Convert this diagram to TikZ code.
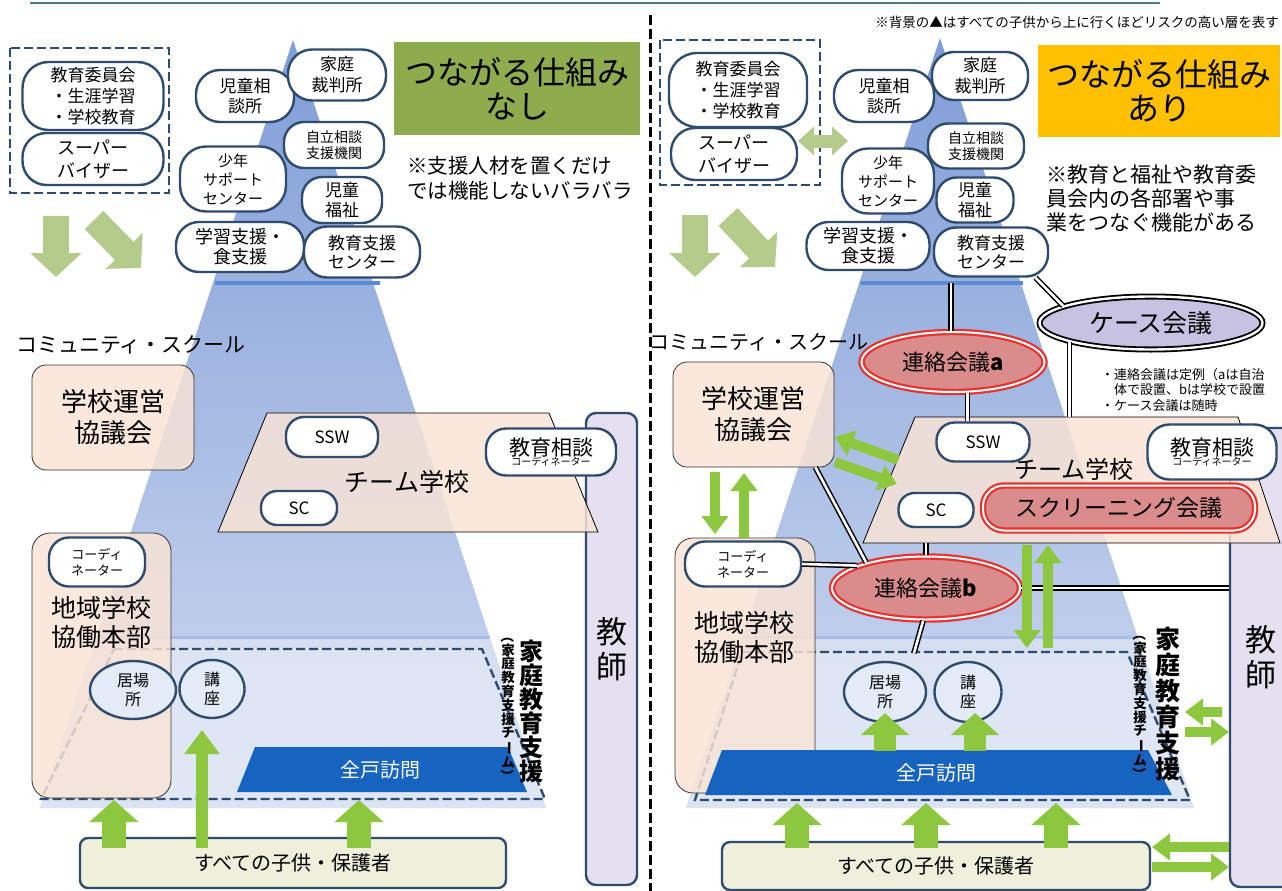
\documentclass[tikz,border=0pt]{standalone}
\usepackage{fontspec}
\setmainfont{Noto Sans CJK JP}
\usepackage{graphicx}
\usetikzlibrary{shapes.geometric,arrows.meta}

\definecolor{pillc}{HTML}{2F4B6E}
\definecolor{peach}{HTML}{FBE4D5}
\definecolor{agreen}{HTML}{8DC63F}
\definecolor{pgreen}{HTML}{B4CB8C}
\definecolor{titleg}{HTML}{8EAB4E}
\definecolor{titleo}{HTML}{FFC000}
\definecolor{zblue}{HTML}{1763C0}
\definecolor{mtgred}{HTML}{DA8B8B}
\definecolor{mtgline}{HTML}{E8322E}
\definecolor{casec}{HTML}{C8C2E2}
\definecolor{teachc}{HTML}{E4E0F0}
\definecolor{kidsc}{HTML}{EEF0DC}
\definecolor{circc}{HTML}{E3ECF6}
\definecolor{triT}{HTML}{7F9DD6}
\definecolor{triB}{HTML}{D0DBF1}
\definecolor{lowc}{HTML}{E4EAF6}
\definecolor{bandc}{HTML}{5B8CD3}
\definecolor{bandl}{HTML}{A7BDE5}
\definecolor{hdr}{HTML}{4F7A8C}

\newcommand\fsz[2]{\fontsize{#1}{#2}\selectfont}
\newcommand\rotch[1]{\rotatebox[origin=c]{-90}{#1}}

\tikzset{
  pill/.style={draw=pillc, line width=2.4pt, fill=white, rounded corners=20pt, align=center, inner sep=0pt},
  circ/.style={ellipse, draw=pillc, line width=2.4pt, fill=circc, align=center, inner sep=0pt, font=\fsz{16}{19}},
  peachbox/.style={draw=black!80, line width=0.8pt, fill=peach, fill opacity=0.82, text opacity=1, rounded corners=14pt},
  dbox/.style={draw=pillc, line width=2.4pt, dash pattern=on 9pt off 4pt},
  mtg/.style={ellipse, draw=mtgline, double=white, double distance=2pt, line width=2.2pt, fill=mtgred, inner sep=0pt},
  dline/.style={draw=black, double=white, double distance=2.6pt, line width=1.5pt},
  teach/.style={draw=pillc, line width=2.4pt, fill=teachc, rounded corners=10pt, align=center, font=\fsz{31}{35}},
  fatarr/.style={draw=agreen, line width=24pt, -{Triangle[length=22pt,width=48pt]}},
  thinarr/.style={draw=agreen, line width=10pt, -{Triangle[length=18pt,width=26pt]}},
  palearr/.style={draw=pgreen, line width=26pt, -{Triangle[length=24pt,width=50pt]}},
}

\begin{document}
\begin{tikzpicture}[x=1pt,y=-1pt]
\useasboundingbox (0,0) rectangle (1282,891);
\fill[white] (0,0) rectangle (1282,891);

% header line and divider
\draw[hdr, line width=2.5pt] (30,3) -- (1160,3);
\draw[black, line width=3pt, dash pattern=on 10pt off 4pt] (650,15) -- (650,891);

% risk triangles
\shade[top color=triT, bottom color=triB] (293,40) -- (40,808) -- (546,808) -- cycle;
\shade[top color=triT, bottom color=triB] (940,38) -- (686,808) -- (1194,808) -- cycle;
\fill[lowc, opacity=0.6] (96,637) -- (490,637) -- (546,808) -- (40,808) -- cycle;
\fill[lowc, opacity=0.6] (742,637) -- (1138,637) -- (1194,808) -- (686,808) -- cycle;
\draw[bandc, line width=4pt] (215,283) -- (380,283);
\draw[bandc, line width=4pt] (860,283) -- (1023,283);
\draw[bandl, line width=3pt] (96,637) -- (490,637);
\draw[bandl, line width=3pt] (742,637) -- (1138,637);

% family support areas
\draw[dbox, fill=lowc, fill opacity=0.5] (114,649) -- (482,649) -- (545,799) -- (41,799) -- cycle;
\draw[dbox, fill=lowc, fill opacity=0.5] (742,652) -- (1127,652) -- (1190,800) -- (695,800) -- cycle;

% teachers
\node[teach, minimum width=51, minimum height=472] (teacherL) at (611.5,649) {教\\師};
\node[teach, minimum width=62, minimum height=459] (teacherR) at (1261,657.5) {教\\師};

% team school
\draw[black, line width=0.8pt, fill=peach, fill opacity=0.82] (267,413) -- (549,413) -- (598,532) -- (218,532) -- cycle;
\draw[black, line width=0.8pt, fill=peach, fill opacity=0.82] (915,417) -- (1238,417) -- (1280,543) -- (863,543) -- cycle;
\node[font=\fsz{25}{28}] (teamL) at (407,482) {チーム学校};
\node[font=\fsz{24}{28}] (teamR) at (1074,469) {チーム学校};

% community school
\node[anchor=west, font=\fsz{21}{24}, inner sep=0] (commL) at (16,345) {コミュニティ・スクール};
\node[anchor=west, font=\fsz{20}{24}, inner sep=0] (commR) at (649,342) {コミュニティ・スクール};
\node[peachbox, minimum width=162, minimum height=105, align=center, font=\fsz{26}{31}] (unneiL) at (113,417.5) {学校運営\\協議会};
\node[peachbox, minimum width=161, minimum height=105, align=center, font=\fsz{26}{31}] (unneiR) at (753.5,414.5) {学校運営\\協議会};
\node[peachbox, minimum width=139, minimum height=265, rounded corners=18pt] (chiikiL) at (101.5,665.5) {};
\node[peachbox, minimum width=140, minimum height=255, rounded corners=18pt] (chiikiR) at (745,665.5) {};
\node[align=center, font=\fsz{25}{29}] (chiikiTxtL) at (101,622) {地域学校\\協働本部};
\node[align=center, font=\fsz{25}{29}] (chiikiTxtR) at (744,637) {地域学校\\協働本部};
\node[pill, minimum width=96, minimum height=49, font=\fsz{13}{16}] (coordL) at (97,562) {コーディ\\ネーター};
\node[pill, minimum width=116, minimum height=45, font=\fsz{13}{16}] (coordR) at (743,564) {コーディ\\ネーター};

% door-to-door visits
\fill[zblue] (255,747) -- (508,747) -- (527,792) -- (237,792) -- cycle;
\fill[zblue] (722,750) -- (1148,750) -- (1172,795) -- (705,795) -- cycle;
\node[white, font=\fsz{20}{24}] (zentoL) at (380,770) {全戸訪問};
\node[white, font=\fsz{20}{24}] (zentoR) at (936,773) {全戸訪問};
\node[circ, minimum width=86, minimum height=58] (ibashoL) at (133,690) {居場\\所};
\node[circ, minimum width=65, minimum height=58] (kouzaL) at (212,689) {講\\座};
\node[circ, minimum width=82, minimum height=60] (ibashoR) at (885,692) {居場\\所};
\node[circ, minimum width=67, minimum height=60] (kouzaR) at (968,692) {講\\座};
\node[font=\fsz{24}{24}\bfseries, align=center, inner sep=0] (kshienL) at (531,711) {家\\庭\\教\\育\\支\\援};
\node[font=\fsz{13.5}{13.8}\bfseries, align=center, inner sep=0] (kteamL) at (508,706) {\rotch{（}\\家\\庭\\教\\育\\支\\援\\チ\\\rotch{ー}\\ム\\\rotch{）}};
\node[font=\fsz{25}{26}\bfseries, align=center, inner sep=0] (kshienR) at (1168,704) {家\\庭\\教\\育\\支\\援};
\node[font=\fsz{13.5}{13.8}\bfseries, align=center, inner sep=0] (kteamR) at (1140,704) {\rotch{（}\\家\\庭\\教\\育\\支\\援\\チ\\\rotch{ー}\\ム\\\rotch{）}};

% all children
\node[draw=pillc, line width=2.4pt, fill=kidsc, rounded corners=8pt, minimum width=426, minimum height=50, font=\fsz{20}{24}] (kodomoL) at (293,863) {すべての子供・保護者};
\node[draw=pillc, line width=2.4pt, fill=kidsc, rounded corners=8pt, minimum width=428, minimum height=48, font=\fsz{20}{24}] (kodomoR) at (936,866) {すべての子供・保護者};

% school staff
\node[pill, rounded corners=18pt, minimum width=92, minimum height=40, font=\fsz{17}{20}] (sswL) at (332,437) {SSW};
\node[pill, rounded corners=16pt, minimum width=76, minimum height=34, font=\fsz{17}{20}] (scL) at (299,508) {SC};
\node[pill, minimum width=130, minimum height=47] (soudanL) at (551,452) {{\fsz{21}{23}教育相談}\\[-2pt]{\fsz{10}{11}コーディネーター}};
\node[pill, rounded corners=18pt, minimum width=93, minimum height=39, font=\fsz{17}{20}] (sswR) at (983,442) {SSW};
\node[pill, rounded corners=16pt, minimum width=75, minimum height=34, font=\fsz{17}{20}] (scR) at (936,510) {SC};
\node[pill, minimum width=129, minimum height=55, rounded corners=22pt] (soudanR) at (1212,452) {{\fsz{21}{23}教育相談}\\[-2pt]{\fsz{10}{11}コーディネーター}};

% top cluster, left
\draw[dbox] (10,48) rectangle (169,193);
\node[pill, minimum width=141, minimum height=68, rounded corners=26pt, font=\fsz{17}{21}] (iinkaiL) at (93,96) {教育委員会\\・生涯学習\\・学校教育};
\node[pill, minimum width=141, minimum height=52, rounded corners=24pt, font=\fsz{18}{23}] (superL) at (93,159) {スーパー\\バイザー};
\node[pill, minimum width=98, minimum height=52, rounded corners=24pt, font=\fsz{17}{20}] (jisouL) at (245,96) {児童相\\談所};
\node[pill, minimum width=98, minimum height=51, rounded corners=24pt, font=\fsz{17}{21}] (kateiL) at (337,75) {家庭\\裁判所};
\node[pill, minimum width=100, minimum height=46, font=\fsz{14}{16.5}] (jiritsuL) at (334,145) {自立相談\\支援機関};
\node[pill, minimum width=106, minimum height=65, rounded corners=26pt, font=\fsz{15}{19}] (shonenL) at (233,179) {少年\\サポート\\センター};
\node[pill, minimum width=80, minimum height=46, font=\fsz{17}{20}] (fukushiL) at (342,200) {児童\\福祉};
\node[pill, minimum width=128, minimum height=50, rounded corners=23pt, font=\fsz{18}{20}] (gakushuL) at (240,247) {学習支援・\\食支援};
\node[pill, minimum width=116, minimum height=51, rounded corners=23pt, font=\fsz{17}{19}] (kyoikuL) at (362,252) {教育支援\\センター};

% top cluster, right
\draw[dbox] (660,40) rectangle (820,185);
\node[pill, minimum width=138, minimum height=74, rounded corners=28pt, font=\fsz{17}{21}] (iinkaiR) at (738,90) {教育委員会\\・生涯学習\\・学校教育};
\node[pill, minimum width=126, minimum height=52, rounded corners=24pt, font=\fsz{18}{23}] (superR) at (734,154) {スーパー\\バイザー};
\node[pill, minimum width=100, minimum height=52, rounded corners=24pt, font=\fsz{17}{20}] (jisouR) at (884,96) {児童相\\談所};
\node[pill, minimum width=96, minimum height=48, rounded corners=22pt, font=\fsz{17}{21}] (kateiR) at (980,76) {家庭\\裁判所};
\node[pill, minimum width=96, minimum height=45, font=\fsz{14}{16.5}] (jiritsuR) at (976,146) {自立相談\\支援機関};
\node[pill, minimum width=92, minimum height=65, rounded corners=26pt, font=\fsz{15}{19}] (shonenR) at (888,181) {少年\\サポート\\センター};
\node[pill, minimum width=77, minimum height=45, font=\fsz{17}{20}] (fukushiR) at (975,200) {児童\\福祉};
\node[pill, minimum width=123, minimum height=48, rounded corners=22pt, font=\fsz{18}{20}] (gakushuR) at (868,246) {学習支援・\\食支援};
\node[pill, minimum width=114, minimum height=49, rounded corners=22pt, font=\fsz{17}{19}] (kyoikuR) at (991,252) {教育支援\\センター};

% titles and notes
\node[fill=titleg, minimum width=246, minimum height=93, font=\fsz{32}{34}, align=center, inner sep=0] (titleL) at (517,88.5) {つながる仕組み\\なし};
\node[fill=titleo, minimum width=242, minimum height=92, font=\fsz{32}{34}, align=center, inner sep=0] (titleR) at (1159,91) {つながる仕組み\\あり};
\node[anchor=west, align=left, font=\fsz{20.5}{25}, inner sep=0] (noteL) at (407,178) {※支援人材を置くだけ\\では機能しないバラバラ};
\node[anchor=west, align=left, font=\fsz{21}{24}, inner sep=0] (noteR) at (1046,199) {※教育と福祉や教育委\\員会内の各部署や事\\業をつなぐ機能がある};
\node[anchor=east, font=\fsz{13.5}{16}, inner sep=0] (riskNote) at (1279,22) {※背景の▲はすべての子供から上に行くほどリスクの高い層を表す};
\node[anchor=west, align=left, font=\fsz{13}{15.5}, inner sep=0] (ruleNote) at (1101,390) {・連絡会議は定例（aは自治\\\hspace*{1em}体で設置、bは学校で設置\\・ケース会議は随時};

% meetings
\node[mtg, minimum width=183, minimum height=60, font=\fsz{22}{24}] (renrakuA) at (953,362) {連絡会議\textbf{a}};
\node[mtg, minimum width=188, minimum height=63, font=\fsz{22}{24}] (renrakuB) at (926,588) {連絡会議\textbf{b}};
\node[mtg, rectangle, rounded corners=21pt, minimum width=272, minimum height=45, font=\fsz{23}{26}] (screen) at (1119,508) {スクリーニング会議};
\node[ellipse, draw=black, double=white, double distance=2.4pt, line width=1.8pt, fill=casec, inner sep=0pt, minimum width=223, minimum height=53, font=\fsz{25}{28}] (caseMtg) at (1151,323) {ケース会議};

% connections
\coordinate (bandTopR) at (951,283);
\coordinate (teamTopR) at (0,417);
\coordinate (teamBotR) at (0,543);
\coordinate (kateiTopR) at (914,653);
\draw[dline] (bandTopR) -- (bandTopR |- renrakuA.north);
\draw[dline] (kyoikuR.-30) -- (caseMtg.169);
\draw[dline] (caseMtg.193) -- (caseMtg.193 |- teamTopR);
\draw[dline] (renrakuA.-65) -- (renrakuA.-65 |- sswR.north);
\draw[dline] ([xshift=-19pt]unneiR.south east) -- (renrakuB.157);
\draw[dline] (coordR.east) -- (renrakuB.162);
\draw[dline] (renrakuB.north |- teamBotR) -- (renrakuB.north);
\draw[dline] (renrakuB.east) -- (renrakuB.east -| teacherR.west);
\draw[dline] (renrakuB.-95) -- (kateiTopR);

% pale arrows
\draw[palearr] (56,216) -- (56,277);
\draw[palearr] (94,220) -- (141,268);
\draw[palearr] (695,215) -- (695,277);
\draw[palearr] (728,217) -- (775,267);
\coordinate (dblA) at (798,141);
\coordinate (dblB) at (848,141);
\draw[draw=pgreen, line width=13pt, {Triangle[length=16pt,width=28pt]}-{Triangle[length=16pt,width=28pt]}] (dblA) -- (dblB);

% green arrows, left
\draw[fatarr] (114,848) -- (114,800);
\draw[fatarr] (359,848) -- (359,800);
\draw[draw=agreen, line width=12pt, -{Triangle[length=24pt,width=34pt]}] (202,848) -- (202,730);

% green arrows, right
\draw[thinarr] (898,460) -- (835,437);
\draw[thinarr] (835,462) -- (897,484);
\draw[thinarr] (715,472) -- (715,534);
\draw[thinarr] (744,538) -- (744,473);
\draw[thinarr] (1027,545) -- (1027,648);
\draw[thinarr] (1048,648) -- (1048,545);
\draw[draw=agreen, line width=22pt, -{Triangle[length=22pt,width=47pt]}] (885,751) -- (885,713);
\draw[draw=agreen, line width=22pt, -{Triangle[length=22pt,width=47pt]}] (975,751) -- (975,713);
\draw[fatarr] (797,848) -- (797,803);
\draw[fatarr] (926,848) -- (926,803);
\draw[fatarr] (1056,848) -- (1056,803);
\draw[thinarr] (1222,712) -- (1185,712);
\draw[thinarr] (1185,732) -- (1229,732);
\draw[thinarr] (1229,847) -- (1152,847);
\draw[thinarr] (1152,867) -- (1229,867);
\end{tikzpicture}
\end{document}
